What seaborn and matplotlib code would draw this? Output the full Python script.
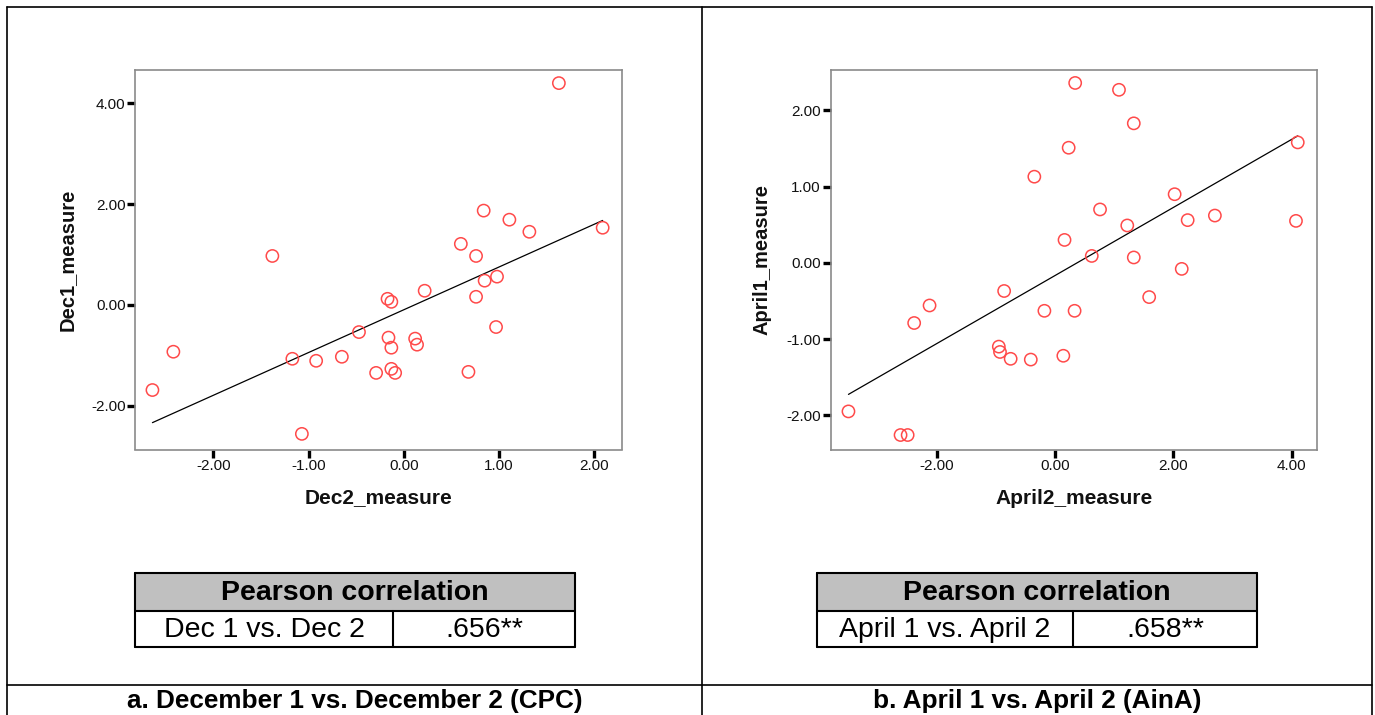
import numpy as np
import pandas as pd
import matplotlib
matplotlib.use("Agg")
import matplotlib.pyplot as plt
from matplotlib.path import Path
from matplotlib.transforms import Affine2D
from matplotlib.patches import Rectangle
from matplotlib.lines import Line2D
import seaborn as sns

# ---------------- data ----------------
dec2_measure = [-2.64, -2.42, -1.38, -1.17, -1.07, -0.92, -0.65, -0.47, -0.29, -0.17,
                -0.13, -0.16, -0.13, -0.13, -0.09, 0.12, 0.14, 0.22, 0.60, 0.68,
                0.76, 0.76, 0.84, 0.85, 0.98, 0.97, 1.11, 1.32, 1.63, 2.09]
dec1_measure = [-1.69, -0.93, 0.97, -1.07, -2.56, -1.11, -1.03, -0.54, -1.35, 0.12,
                0.06, -0.65, -0.85, -1.27, -1.35, -0.67, -0.79, 0.28, 1.21, -1.33,
                0.97, 0.16, 1.87, 0.48, 0.56, -0.44, 1.69, 1.45, 4.40, 1.53]

april2_measure = [-3.49, -2.61, -2.49, -2.38, -2.12, -0.95, -0.93, -0.86, -0.75, -0.41,
                  -0.35, -0.18, 0.14, 0.16, 0.23, 0.33, 0.34, 0.62, 0.76, 1.08,
                  1.22, 1.33, 1.33, 1.59, 2.02, 2.14, 2.24, 2.70, 4.07, 4.10]
april1_measure = [-1.95, -2.26, -2.26, -0.79, -0.56, -1.10, -1.17, -0.37, -1.26, -1.27,
                  1.13, -0.63, -1.22, 0.30, 1.51, -0.63, 2.36, 0.09, 0.70, 2.27,
                  0.49, 1.83, 0.07, -0.45, 0.90, -0.08, 0.56, 0.62, 0.55, 1.58]

dec_xticks = [-2.0, -1.0, 0.0, 1.0, 2.0]
dec_yticks = [-2.0, 0.0, 2.0, 4.0]
apr_xticks = [-2.0, 0.0, 2.0, 4.0]
apr_yticks = [-2.0, -1.0, 0.0, 1.0, 2.0]

table_header = "Pearson correlation"
dec_pair, dec_r = "Dec 1 vs. Dec 2", ".656**"
apr_pair, apr_r = "April 1 vs. April 2", ".658**"
caption_a = "a. December 1 vs. December 2 (CPC)"
caption_b = "b. April 1 vs. April 2 (AinA)"

# ---------------- style ----------------
sns.set_theme(style="white")
plt.rcParams["font.family"] = ["Liberation Sans", "DejaVu Sans"]
plt.rcParams["axes.unicode_minus"] = False

W, H = 1375, 715
fig = plt.figure(figsize=(W / 100, H / 100), dpi=100)
fig.patch.set_facecolor("white")


def fx(px):
    return px / W


def fy(py):
    return 1 - py / H


# elliptical open marker
ellipse = Path.unit_circle().transformed(Affine2D().scale(1.5, 1.0))
red = "#ff4a4a"


def make_panel(left_px, right_px, x, y, xlim, ylim, xt, yt, xlabel, ylabel, ylab_x):
    top_px, bot_px = 70, 449.5
    ax = fig.add_axes([fx(left_px), fy(bot_px), fx(right_px - left_px), (bot_px - top_px) / H])
    df = pd.DataFrame({xlabel: x, ylabel: y})
    sns.regplot(data=df, x=xlabel, y=ylabel, ax=ax, ci=None, truncate=True,
                scatter_kws=dict(marker=ellipse, s=78, facecolors="none",
                                 edgecolors=red, linewidths=1.1, alpha=1, zorder=3),
                line_kws=dict(color="black", lw=0.9, zorder=2),
                color=red)
    ax.set_xlim(*xlim)
    ax.set_ylim(*ylim)
    ax.set_xticks(xt)
    ax.set_yticks(yt)
    ax.set_xticklabels([f"{v:.2f}" for v in xt])
    ax.set_yticklabels([f"{v:.2f}" for v in yt])
    for s in ax.spines.values():
        s.set_visible(True)
        s.set_color("#8a8a8a")
        s.set_linewidth(1.2)
    ax.tick_params(axis="both", which="major", direction="out", length=6, width=2.4,
                   color="black", labelsize=11, labelcolor="#111111", pad=1,
                   bottom=True, left=True, top=False, right=False)
    ax.set_xlabel(xlabel, fontsize=15, fontweight="bold", color="#111111")
    ax.set_ylabel(ylabel, fontsize=14.5, fontweight="bold", color="#111111")
    ax.xaxis.set_label_coords(0.5, (bot_px - 498) / (bot_px - top_px))
    ax.xaxis.label.set_va("center")
    ax.yaxis.set_label_coords((ylab_x - left_px) / (right_px - left_px), 0.5)
    ax.yaxis.label.set_va("center")
    ax.grid(False)
    return ax


make_panel(135.3, 621.7, dec2_measure, dec1_measure, (-2.82, 2.29), (-2.87, 4.66),
           dec_xticks, dec_yticks, "Dec2_measure", "Dec1_measure", 67)
make_panel(830.7, 1316.7, april2_measure, april1_measure, (-3.79, 4.42), (-2.45, 2.53),
           apr_xticks, apr_yticks, "April2_measure", "April1_measure", 762)

# ---------------- outer layout lines ----------------
lw_out = 1.2
for (x0, y0, x1, y1) in [(7, 7, 1372, 7), (7, 7, 7, 715), (1372, 7, 1372, 715),
                         (702, 7, 702, 715), (7, 685, 1372, 685)]:
    fig.add_artist(Line2D([fx(x0), fx(x1)], [fy(y0), fy(y1)], color="black", lw=lw_out,
                          transform=fig.transFigure))


# ---------------- tables ----------------
def table(x0, x1, xdiv, pair, r):
    y0, ymid, y1 = 573, 611, 647
    fig.add_artist(Rectangle((fx(x0), fy(ymid)), fx(x1 - x0), (ymid - y0) / H,
                             facecolor="#c0c0c0", edgecolor="none", transform=fig.transFigure))
    segs = [(x0, y0, x1, y0), (x0, ymid, x1, ymid), (x0, y1, x1, y1),
            (x0, y0, x0, y1), (x1, y0, x1, y1), (xdiv, ymid, xdiv, y1)]
    for (a, b, c, d) in segs:
        fig.add_artist(Line2D([fx(a), fx(c)], [fy(b), fy(d)], color="black", lw=1.5,
                              transform=fig.transFigure))
    fig.text(fx((x0 + x1) / 2), fy((y0 + ymid) / 2 + 1), table_header, ha="center", va="center",
             fontsize=20.5, fontweight="bold", color="black")
    fig.text(fx((x0 + xdiv) / 2), fy((ymid + y1) / 2 + 1), pair, ha="center", va="center",
             fontsize=20.5, color="black")
    fig.text(fx((xdiv + x1) / 2), fy((ymid + y1) / 2 + 1), r, ha="center", va="center",
             fontsize=20.5, color="black")


table(135, 575, 393, dec_pair, dec_r)
table(817, 1257, 1073, apr_pair, apr_r)

fig.text(fx(354.5), fy(701), caption_a, ha="center", va="center", fontsize=18.8,
         fontweight="bold", color="black")
fig.text(fx(1037), fy(701), caption_b, ha="center", va="center", fontsize=18.8,
         fontweight="bold", color="black")

fig.savefig("out.png", dpi=100, facecolor="white")
